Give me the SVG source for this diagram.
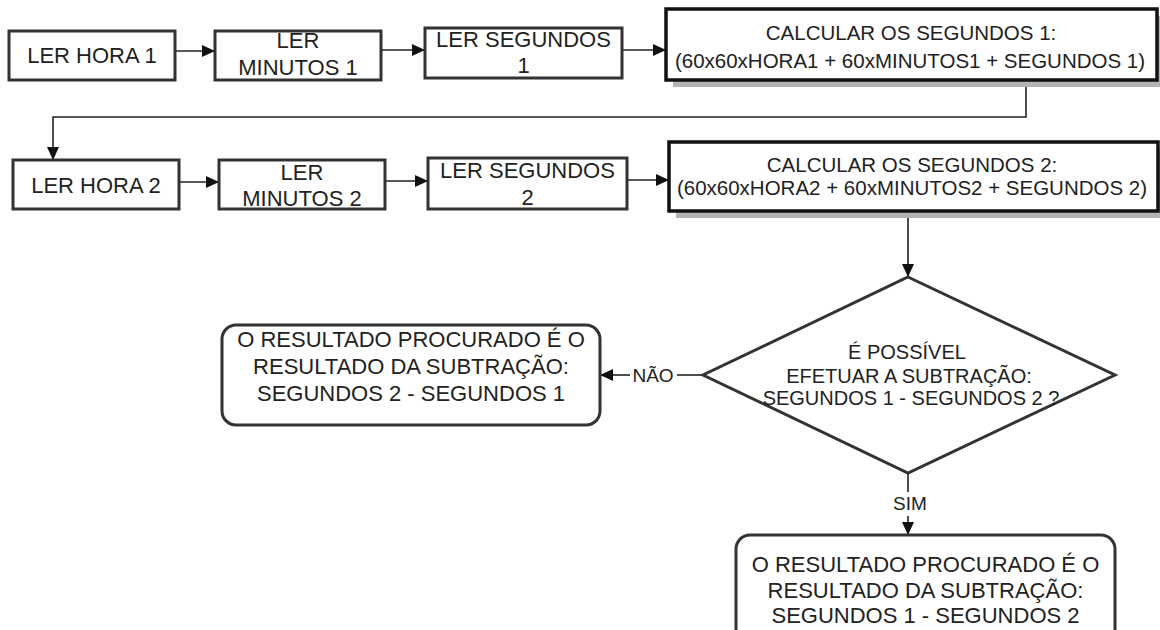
<svg xmlns="http://www.w3.org/2000/svg" width="1160" height="630" viewBox="0 0 1160 630">
<defs>
<marker id="arr" markerUnits="userSpaceOnUse" markerWidth="13" markerHeight="12" viewBox="0 0 13 12" refX="13" refY="6" orient="auto">
<path d="M0,0 L13,6 L0,12 Z" fill="#111"/>
</marker>
<style>
.box{fill:#fff;stroke:#333;stroke-width:3}
.bbox{fill:#fff;stroke:#111;stroke-width:3.5}
.shadow{fill:#b3b3b3}
.conn{fill:none;stroke:#222;stroke-width:1.6}
.t{font-family:"Liberation Sans",Arial,sans-serif;font-size:22px;fill:#222;text-anchor:middle}
.s{font-size:20.5px}
.d{font-size:20px}
.lbl{font-family:"Liberation Sans",Arial,sans-serif;font-size:19px;fill:#222;text-anchor:middle}
</style>
</defs>
<rect width="1160" height="630" fill="#fff"/>

<g id="connectors">
<line class="conn" x1="175" y1="51" x2="215" y2="51" marker-end="url(#arr)"/>
<line class="conn" x1="381" y1="50" x2="425" y2="50" marker-end="url(#arr)"/>
<line class="conn" x1="622" y1="50" x2="666" y2="50" marker-end="url(#arr)"/>
<path class="conn" d="M1026,80 V117 H53 V160" marker-end="url(#arr)"/>
<line class="conn" x1="179" y1="182" x2="219" y2="182" marker-end="url(#arr)"/>
<line class="conn" x1="385" y1="181" x2="428" y2="181" marker-end="url(#arr)"/>
<line class="conn" x1="627" y1="180" x2="669" y2="180" marker-end="url(#arr)"/>
<line class="conn" x1="908" y1="211" x2="908" y2="277" marker-end="url(#arr)"/>
<line class="conn" x1="703" y1="375" x2="677" y2="375"/>
<line class="conn" x1="630" y1="375" x2="600" y2="375" marker-end="url(#arr)"/>
<text class="lbl" x="653" y="382">NÃO</text>
<line class="conn" x1="908" y1="473" x2="908" y2="492"/>
<text class="lbl" x="910" y="510">SIM</text>
<line class="conn" x1="908" y1="516" x2="908" y2="535" marker-end="url(#arr)"/>
</g>

<g id="ler-hora-1">
<rect class="box" x="9" y="31" width="166" height="49"/>
<text class="t" x="92" y="63">LER HORA 1</text>
</g>
<g id="ler-minutos-1">
<rect class="box" x="215" y="31" width="166" height="49"/>
<text class="t" x="298" y="48">LER</text>
<text class="t" x="298" y="75">MINUTOS 1</text>
</g>
<g id="ler-segundos-1">
<rect class="box" x="425" y="28" width="197" height="50"/>
<text class="t" x="523.5" y="47">LER SEGUNDOS</text>
<text class="t" x="523.5" y="73">1</text>
</g>
<g id="calc-1">
<rect class="shadow" x="673" y="16" width="491" height="71"/>
<rect class="bbox" x="666" y="9" width="491" height="71"/>
<text class="t s" x="911" y="40">CALCULAR OS SEGUNDOS 1:</text>
<text class="t s" x="910" y="68">(60x60xHORA1 + 60xMINUTOS1 + SEGUNDOS 1)</text>
</g>

<g id="ler-hora-2">
<rect class="box" x="13" y="160" width="166" height="49"/>
<text class="t" x="96" y="193">LER HORA 2</text>
</g>
<g id="ler-minutos-2">
<rect class="box" x="219" y="160" width="166" height="49"/>
<text class="t" x="302" y="180">LER</text>
<text class="t" x="302" y="206">MINUTOS 2</text>
</g>
<g id="ler-segundos-2">
<rect class="box" x="428" y="158" width="199" height="51"/>
<text class="t" x="527.5" y="178">LER SEGUNDOS</text>
<text class="t" x="527.5" y="205">2</text>
</g>
<g id="calc-2">
<rect class="shadow" x="676" y="149" width="489" height="69"/>
<rect class="bbox" x="669" y="142" width="489" height="69"/>
<text class="t s" x="912" y="172">CALCULAR OS SEGUNDOS 2:</text>
<text class="t s" x="912" y="195">(60x60xHORA2 + 60xMINUTOS2 + SEGUNDOS 2)</text>
</g>

<g id="decisao">
<polygon points="908,277 1115,375 908,473 703,375" fill="#fff" stroke="#333" stroke-width="3"/>
<text class="t d" x="907" y="359">É POSSÍVEL</text>
<text class="t d" x="909" y="383">EFETUAR A SUBTRAÇÃO:</text>
<text class="t d" x="911" y="405">SEGUNDOS 1 - SEGUNDOS 2 ?</text>
</g>

<g id="resultado-nao">
<rect class="box" x="222" y="325" width="378" height="100" rx="14" ry="14"/>
<text class="t" x="411" y="347">O RESULTADO PROCURADO É O</text>
<text class="t" x="411" y="374">RESULTADO DA SUBTRAÇÃO:</text>
<text class="t" x="411" y="401">SEGUNDOS 2 - SEGUNDOS 1</text>
</g>

<g id="resultado-sim">
<rect class="box" x="736" y="535" width="379" height="110" rx="14" ry="14"/>
<text class="t" x="925.5" y="572">O RESULTADO PROCURADO É O</text>
<text class="t" x="925.5" y="598">RESULTADO DA SUBTRAÇÃO:</text>
<text class="t" x="925.5" y="623">SEGUNDOS 1 - SEGUNDOS 2</text>
</g>
</svg>
